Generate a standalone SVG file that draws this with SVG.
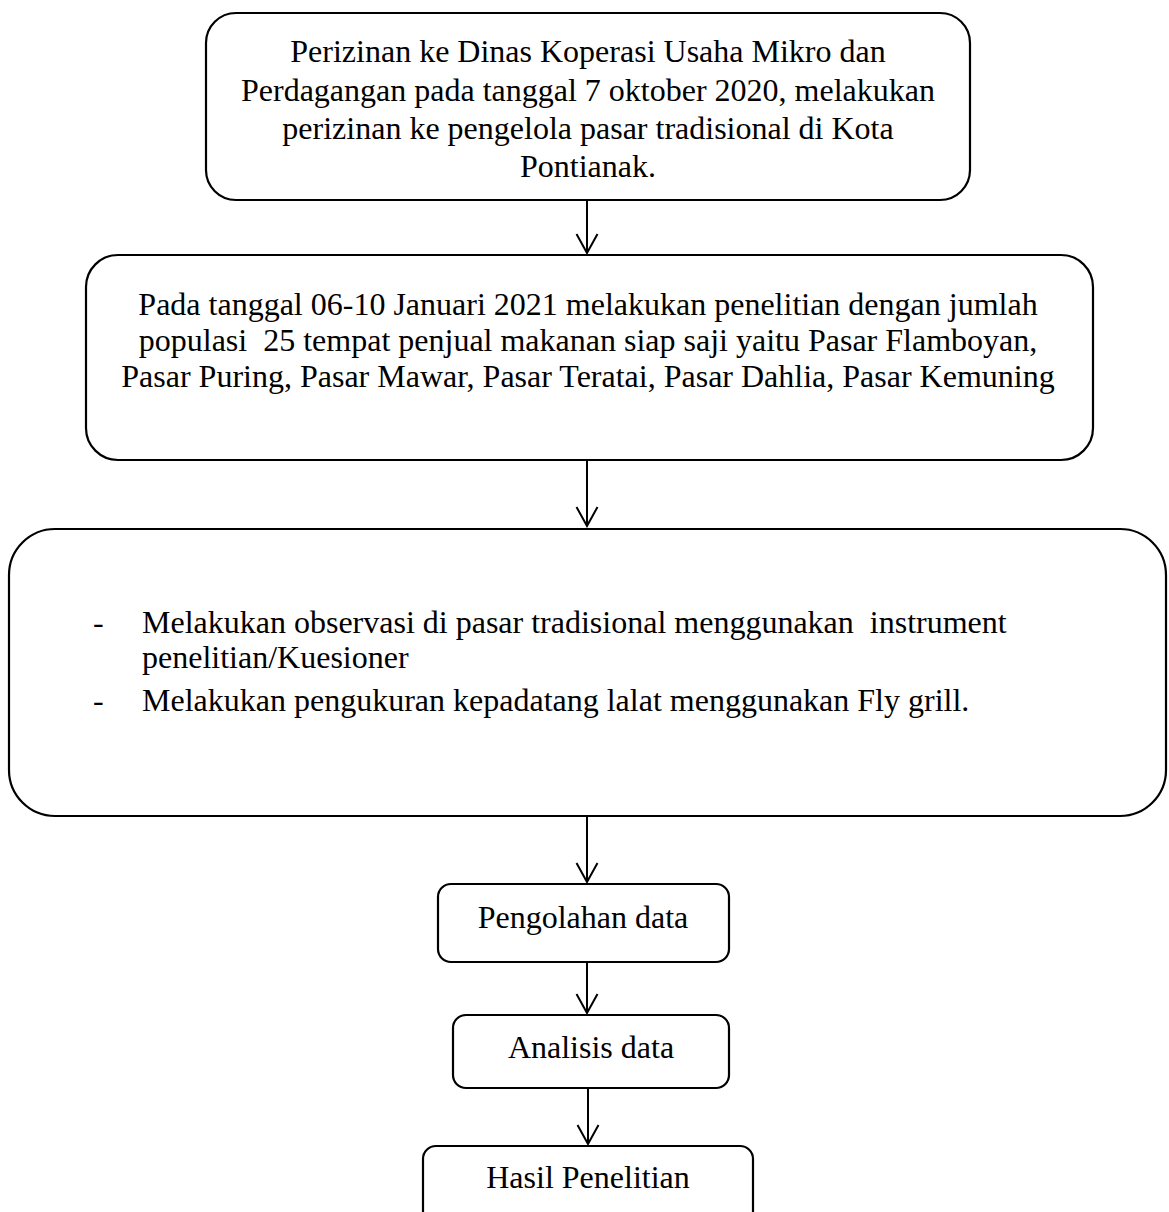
<svg xmlns="http://www.w3.org/2000/svg" width="1169" height="1212" viewBox="0 0 1169 1212">
<style>
.box{fill:#fff;stroke:#000;stroke-width:2.2}
.t{font-family:"Liberation Serif","Times New Roman",serif;font-size:32px;fill:#000}
.c{text-anchor:middle}
.conn line{stroke:#000;stroke-width:2}
</style>
<defs>
<marker id="ah" viewBox="0 0 24 24" refX="22" refY="12" markerWidth="24" markerHeight="24" markerUnits="userSpaceOnUse" orient="auto">
<path d="M3,1.5 L22,12 L3,22.5" fill="none" stroke="#000" stroke-width="2"/>
</marker>
</defs>
<rect width="1169" height="1212" fill="#fff"/>
<g id="node1">
<rect class="box" x="206" y="13" width="764" height="187" rx="30" ry="30"/>
<text class="t c" x="588" y="62">Perizinan ke Dinas Koperasi Usaha Mikro dan</text>
<text class="t c" x="588" y="101">Perdagangan pada tanggal 7 oktober 2020, melakukan</text>
<text class="t c" x="588" y="139">perizinan ke pengelola pasar tradisional di Kota</text>
<text class="t c" x="588" y="177">Pontianak.</text>
</g>
<g id="node2">
<rect class="box" x="86" y="255" width="1007" height="205" rx="32" ry="32"/>
<text class="t c" x="588" y="315">Pada tanggal 06-10 Januari 2021 melakukan penelitian dengan jumlah</text>
<text class="t c" x="588" y="351" xml:space="preserve">populasi  25 tempat penjual makanan siap saji yaitu Pasar Flamboyan,</text>
<text class="t c" x="588" y="387">Pasar Puring, Pasar Mawar, Pasar Teratai, Pasar Dahlia, Pasar Kemuning</text>
</g>
<g id="node3">
<rect class="box" x="9" y="529" width="1157" height="287" rx="46" ry="46"/>
<text class="t" x="93" y="633">-</text>
<text class="t" x="142" y="633" xml:space="preserve">Melakukan observasi di pasar tradisional menggunakan  instrument</text>
<text class="t" x="142" y="668">penelitian/Kuesioner</text>
<text class="t" x="93" y="711">-</text>
<text class="t" x="142" y="711">Melakukan pengukuran kepadatang lalat menggunakan Fly grill.</text>
</g>
<g id="node4">
<rect class="box" x="438" y="884" width="291" height="78" rx="13" ry="13"/>
<text class="t c" x="583" y="928">Pengolahan data</text>
</g>
<g id="node5">
<rect class="box" x="453" y="1015" width="276" height="73" rx="13" ry="13"/>
<text class="t c" x="591" y="1058">Analisis data</text>
</g>
<g id="node6">
<rect class="box" x="423" y="1146" width="330" height="80" rx="13" ry="13"/>
<text class="t c" x="588" y="1188">Hasil Penelitian</text>
</g>
<g id="connectors" class="conn">
<line x1="587" y1="200" x2="587" y2="253" marker-end="url(#ah)"/>
<line x1="587" y1="460" x2="587" y2="526" marker-end="url(#ah)"/>
<line x1="587" y1="816" x2="587" y2="882" marker-end="url(#ah)"/>
<line x1="587" y1="962" x2="587" y2="1013" marker-end="url(#ah)"/>
<line x1="588" y1="1088" x2="588" y2="1144" marker-end="url(#ah)"/>
</g>
</svg>
